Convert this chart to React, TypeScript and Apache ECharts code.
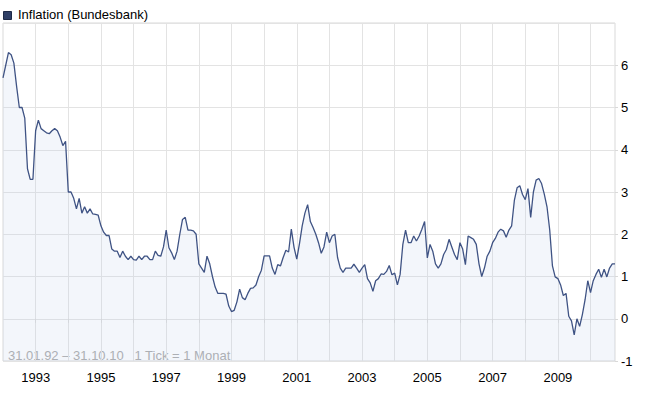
import React, { useEffect, useRef } from "react";
import * as echarts from "echarts";

// Monthly inflation rate (%), 31.01.1992 – 31.10.2010
const startYear = 1992;
const inflation: number[] = [
  // 1992
  5.7, 6.0, 6.3, 6.25, 6.05, 5.5, 5.0, 5.0, 4.75, 3.55, 3.3, 3.3,
  // 1993
  4.45, 4.7, 4.5, 4.45, 4.4, 4.38, 4.45, 4.5, 4.45, 4.3, 4.1, 4.2,
  // 1994
  3.0, 3.0, 2.85, 2.6, 2.85, 2.5, 2.65, 2.5, 2.6, 2.48, 2.47, 2.45,
  // 1995
  2.2, 2.05, 1.97, 1.97, 1.65, 1.6, 1.6, 1.45, 1.6, 1.48, 1.4, 1.48,
  // 1996
  1.4, 1.39, 1.48, 1.4, 1.48, 1.48, 1.4, 1.4, 1.6, 1.5, 1.48, 1.7,
  // 1997
  2.1, 1.68, 1.56, 1.4, 1.6, 2.0, 2.35, 2.4, 2.1, 2.1, 2.08, 2.0,
  // 1998
  1.3, 1.2, 1.1, 1.48, 1.3, 1.0, 0.75, 0.6, 0.6, 0.6, 0.58, 0.3,
  // 1999
  0.17, 0.2, 0.4, 0.7, 0.5, 0.45, 0.6, 0.72, 0.73, 0.8, 1.0, 1.15,
  // 2000
  1.49, 1.49, 1.49, 1.2, 1.05, 1.28, 1.25, 1.45, 1.62, 1.58, 2.12, 1.69,
  // 2001
  1.41, 1.78, 2.2, 2.5, 2.7, 2.3, 2.16, 2.0, 1.8, 1.55, 1.7, 2.05,
  // 2002
  1.8, 1.96, 2.0, 1.45, 1.2, 1.1, 1.2, 1.2, 1.2, 1.29, 1.2, 1.1,
  // 2003
  1.2, 1.28, 0.95, 0.85, 0.65, 0.9, 0.95, 1.06, 1.05, 1.12, 1.26, 1.04,
  // 2004
  1.08, 0.8, 1.05, 1.76, 2.1, 1.8, 1.8, 1.96, 1.84, 1.96, 2.12, 2.3,
  // 2005
  1.44, 1.76, 1.6, 1.3, 1.2, 1.3, 1.52, 1.64, 1.88, 1.7, 1.52, 1.4,
  // 2006
  1.8, 1.65, 1.28, 1.96, 1.92, 1.88, 1.76, 1.3, 1.0, 1.2, 1.48, 1.6,
  // 2007
  1.8, 1.9, 2.05, 2.12, 2.08, 1.93, 2.1, 2.2, 2.8, 3.1, 3.15, 2.94,
  // 2008
  2.82, 3.08, 2.4, 3.0, 3.28, 3.32, 3.2, 2.95, 2.65, 2.1, 1.25, 0.99,
  // 2009
  0.95, 0.8, 0.55, 0.6, 0.06, -0.05, -0.38, 0.0, -0.18, 0.1, 0.45, 0.9,
  // 2010
  0.62, 0.9, 1.05, 1.17, 0.98, 1.17, 0.99, 1.2, 1.3, 1.3,
];

const months: string[] = inflation.map(
  (_, i) => `${startYear + Math.floor(i / 12)}-${String((i % 12) + 1).padStart(2, "0")}`
);

const seriesName = "Inflation (Bundesbank)";
const rangeNote = "31.01.92 – 31.10.10   1 Tick = 1 Monat";
const yMin = -1;
const yMax = 7;
const yStep = 1;

const FONT = "'Liberation Sans', Arial, sans-serif";

export default function App() {
  const ref = useRef<HTMLDivElement>(null);

  useEffect(() => {
    if (!ref.current) return;
    const chart = echarts.init(ref.current, undefined, { renderer: "svg" });
    const isYearStart = (i: number) => i % 12 === 0 && i > 0;
    chart.setOption({
      animation: false,
      backgroundColor: "#ffffff",
      grid: {
        left: 3,
        right: 37,
        top: 23,
        bottom: 32,
        show: true,
        borderColor: "#d9d9d9",
        borderWidth: 1,
        backgroundColor: "transparent",
      },
      xAxis: {
        type: "category",
        data: months,
        boundaryGap: false,
        axisLine: { show: false },
        axisTick: {
          show: true,
          interval: (i: number) => isYearStart(i),
          length: 4,
          lineStyle: { color: "#d9d9d9" },
        },
        axisLabel: {
          interval: (i: number) => i % 24 === 12,
          formatter: (v: string) => v.slice(0, 4),
          color: "#000",
          fontSize: 13,
          fontFamily: FONT,
          margin: 10,
        },
        splitLine: {
          show: true,
          interval: (i: number) => isYearStart(i),
          lineStyle: { color: "#e3e3e3", width: 1 },
        },
      },
      yAxis: {
        type: "value",
        position: "right",
        min: yMin,
        max: yMax,
        interval: yStep,
        axisLine: { show: false },
        axisTick: { show: true, length: 3, lineStyle: { color: "#d9d9d9" } },
        axisLabel: {
          margin: 6,
          showMaxLabel: false,
          color: "#000",
          fontSize: 13,
          fontFamily: FONT,
        },
        splitLine: { show: true, lineStyle: { color: "#e3e3e3", width: 1 } },
      },
      series: [
        {
          name: seriesName,
          type: "line",
          data: inflation,
          symbol: "none",
          showSymbol: false,
          silent: true,
          lineStyle: { color: "#3f5384", width: 1.3 },
          areaStyle: { origin: "start", color: "rgba(190,205,235,0.27)" },
        },
      ],
      graphic: [
        {
          type: "rect",
          left: 3,
          top: 11,
          shape: { width: 8, height: 8 },
          style: { fill: "#2f3f66", stroke: "#1e2a47", lineWidth: 1 },
        },
        {
          type: "text",
          left: 18,
          top: 8,
          style: {
            text: seriesName,
            fill: "#000",
            font: `13px ${FONT}`,
          },
        },
        {
          type: "text",
          left: 8,
          top: 349,
          style: {
            text: rangeNote,
            fill: "#a8a8a8",
            font: `13px ${FONT}`,
          },
        },
      ],
    });
    return () => chart.dispose();
  }, []);

  return (
    <div
      ref={ref}
      style={{ position: "absolute", left: 0, top: 0, width: 652, height: 393 }}
    />
  );
}
